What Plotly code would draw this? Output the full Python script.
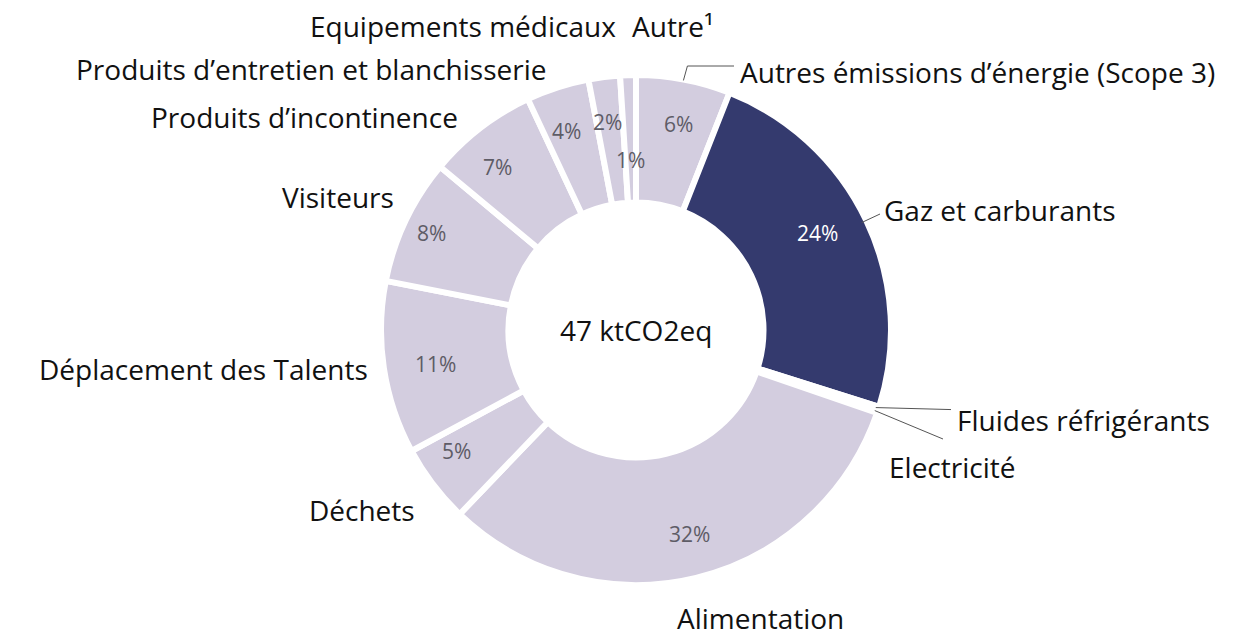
import math
import plotly.graph_objects as go

# ---- data ----
categories = [
    "Autres émissions d’énergie (Scope 3)",
    "Gaz et carburants",
    "Fluides réfrigérants",
    "Electricité",
    "Alimentation",
    "Déchets",
    "Déplacement des Talents",
    "Visiteurs",
    "Produits d’incontinence",
    "Produits d’entretien et blanchisserie",
    "Equipements médicaux",
    "Autre¹",
]
values = [6, 24, 0.2, 0.2, 32, 5, 11, 8, 7, 4, 2, 1]
pct_labels = ["6%", "24%", "", "", "32%", "5%", "11%", "8%", "7%", "4%", "2%", "1%"]
center_text = "47 ktCO2eq"

# ---- style / layout ----
OFF = 8                      # page body margin in the browser
FW, FH = 1246 - OFF, 640 - OFF
CX, CY, R = 636, 330, 255
LIGHT = "#D3CDDF"
NAVY = "#343A6E"
colors = [NAVY if c == "Gaz et carburants" else LIGHT for c in categories]
FONT = "Open Sans"

def px(x):
    return (x - OFF) / FW

def py(y):
    return 1 - (y - OFF) / FH

fig = go.Figure()
fig.add_trace(go.Pie(
    labels=categories,
    values=values,
    sort=False,
    direction="clockwise",
    rotation=0,
    hole=0.5,
    marker=dict(colors=colors, line=dict(color="white", width=6)),
    textinfo="none",
    hoverinfo="label+value",
    showlegend=False,
    domain=dict(x=[px(CX - R), px(CX + R)], y=[py(CY + R), py(CY - R)]),
))

annotations = []
# percentage labels, placed at the middle angle of each slice
total = sum(values)
cum = 0.0
pct_radius = {"Autre¹": 186}
for cat, v, t in zip(categories, values, pct_labels):
    mid = 2 * math.pi * (cum + v / 2) / total
    cum += v
    if not t:
        continue
    r = pct_radius.get(cat, 226)
    x = CX + r * math.sin(mid)
    y = CY - r * math.cos(mid)
    annotations.append(dict(
        x=px(x), y=py(y), xref="paper", yref="paper", text=t, showarrow=False,
        font=dict(family=FONT, size=21,
                  color="white" if cat == "Gaz et carburants" else "#5E5C66"),
    ))

# category labels (pixel positions, anchor)
label_pos = {
    "Equipements médicaux": (618, 26, "right"),
    "Autre¹": (630, 26, "left"),
    "Produits d’entretien et blanchisserie": (548, 69, "right"),
    "Produits d’incontinence": (460, 117, "right"),
    "Visiteurs": (396, 197, "right"),
    "Déplacement des Talents": (370, 369, "right"),
    "Déchets": (417, 510, "right"),
    "Alimentation": (760, 618, "center"),
    "Electricité": (887, 467, "left"),
    "Fluides réfrigérants": (955, 420, "left"),
    "Gaz et carburants": (882, 210, "left"),
    "Autres émissions d’énergie (Scope 3)": (738, 72, "left"),
}
for cat in categories:
    x, y, anc = label_pos[cat]
    annotations.append(dict(
        x=px(x), y=py(y), xref="paper", yref="paper", text=cat, showarrow=False,
        xanchor=anc, yanchor="middle",
        font=dict(family=FONT, size=28, color="#111111"),
    ))

annotations.append(dict(
    x=px(CX), y=py(CY), xref="paper", yref="paper", text=center_text,
    showarrow=False, font=dict(family=FONT, size=28, color="#111111"),
))

# leader lines
def slice_point(idx, r):
    start = sum(values[:idx])
    mid = 2 * math.pi * (start + values[idx] / 2) / total
    return CX + r * math.sin(mid), CY - r * math.cos(mid)

shapes = []
lc = dict(color="#555555", width=1)
def seg(x0, y0, x1, y1):
    shapes.append(dict(type="line", xref="paper", yref="paper",
                       x0=px(x0), y0=py(y0), x1=px(x1), y1=py(y1), line=lc))

ax, ay = slice_point(0, 254)
seg(ax, ay, ax + 4, 66)
seg(ax + 4, 66, 734, 66)
gx, gy = slice_point(1, 250)
seg(gx, gy, 880, 214)
fx, fy = slice_point(2, 252)
seg(fx, fy, 951, fy + 2)
ex, ey = slice_point(3, 252)
seg(ex, ey, 943, 439)

fig.update_layout(
    width=FW, height=FH,
    margin=dict(l=0, r=0, t=0, b=0),
    paper_bgcolor="white", plot_bgcolor="white",
    annotations=annotations, shapes=shapes,
    showlegend=False,
)
fig.write_html("out.html")
